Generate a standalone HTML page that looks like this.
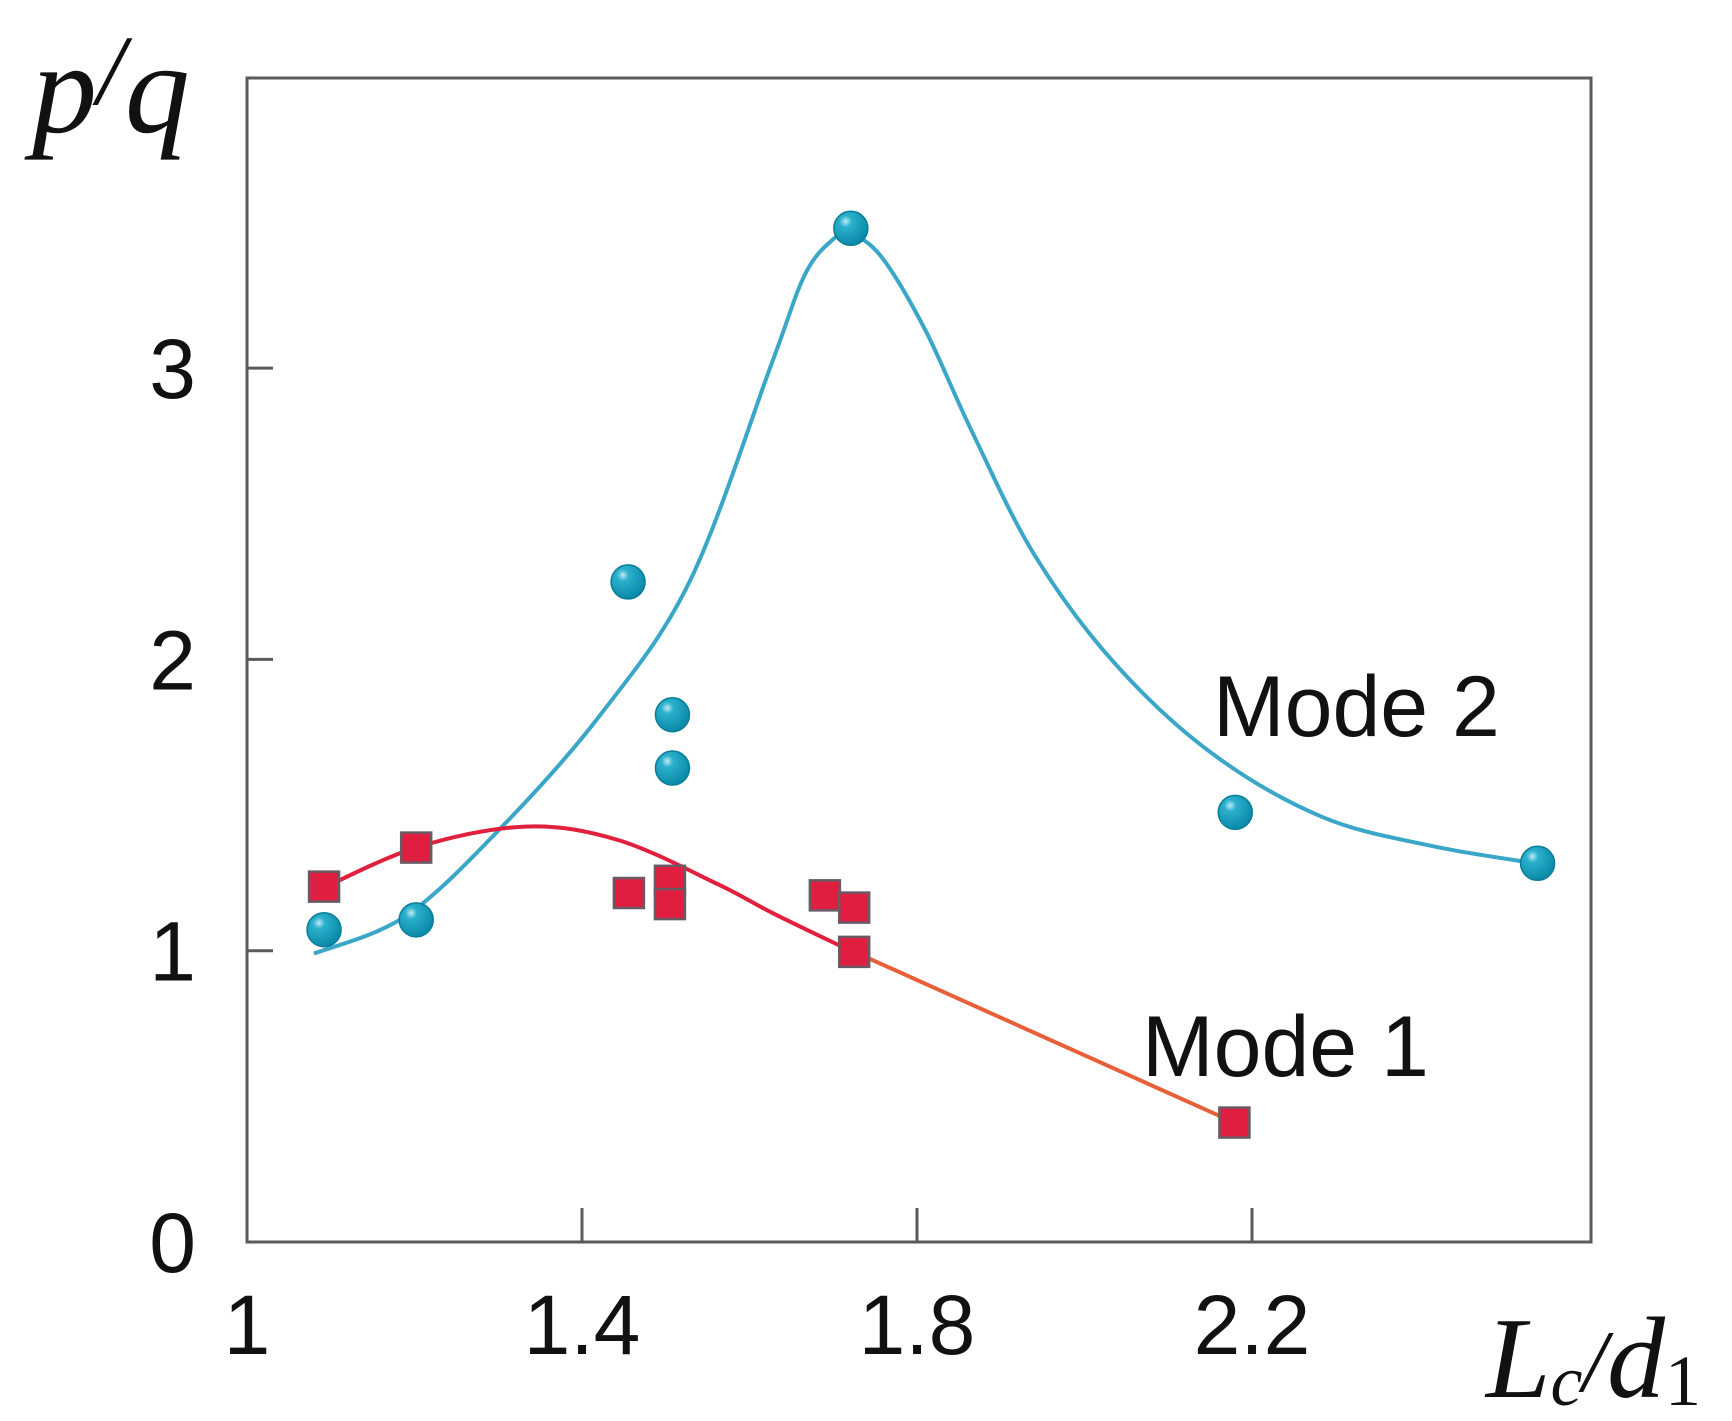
<!DOCTYPE html>
<html><head><meta charset="utf-8"><style>
html,body{margin:0;padding:0;background:#fff;}
svg{display:block;}
</style></head><body>
<svg id="chart" width="1732" height="1421" viewBox="0 0 1732 1421" xmlns="http://www.w3.org/2000/svg">
<defs>
<radialGradient id="ball" cx="0.35" cy="0.3" r="0.7">
<stop offset="0" stop-color="#bfeaf4"/><stop offset="0.25" stop-color="#2bb0cc"/><stop offset="1" stop-color="#0a8aa8"/>
</radialGradient>
</defs>
<g id="axes"></g>
<g id="curves"></g>
<g id="marks"></g>
<text x="32" y="132" font-family="Liberation Serif, serif" font-style="italic" font-size="130" fill="#111">p<tspan font-size="100" dy="-28">/</tspan><tspan dy="28">q</tspan></text>
<text x="1486" y="1397" font-family="Liberation Serif, serif" font-style="italic" font-size="116" fill="#111">L<tspan font-size="72" dy="8">c</tspan><tspan font-size="88" dy="-14">/</tspan><tspan dy="6">d</tspan><tspan font-style="normal" font-size="72" dy="8">1</tspan></text>
<text x="1213" y="736" font-family="Liberation Sans, sans-serif" font-size="86" fill="#111">Mode 2</text>
<text x="1142" y="1076" font-family="Liberation Sans, sans-serif" font-size="86" fill="#111">Mode 1</text>
</svg>
<script>
const xTicks = [1, 1.4, 1.8, 2.2];
const xTickLabels = ["1", "1.4", "1.8", "2.2"];
const yTicks = [0, 1, 2, 3];
const yTickLabels = ["0", "1", "2", "3"];
const mode2X = [1.092, 1.202, 1.455, 1.508, 1.508, 1.721, 2.180, 2.541];
const mode2Y = [1.072, 1.106, 2.266, 1.81, 1.627, 3.48, 1.475, 1.30];
const mode1X = [1.092, 1.202, 1.456, 1.505, 1.505, 1.690, 1.725, 1.725, 2.179];
const mode1Y = [1.22, 1.354, 1.198, 1.24, 1.16, 1.19, 1.148, 0.996, 0.41];
const fit2X = [1.080, 1.19, 1.306, 1.422, 1.529, 1.627, 1.666, 1.699, 1.721, 1.758, 1.810, 1.866, 1.940, 2.035, 2.151, 2.283, 2.414, 2.538];
const fit2Y = [0.99, 1.12, 1.43, 1.81, 2.27, 3.02, 3.32, 3.44, 3.46, 3.38, 3.13, 2.78, 2.36, 1.99, 1.68, 1.46, 1.36, 1.30];
const fit1X = [1.080, 1.202, 1.332, 1.443, 1.561, 1.627, 1.706, 1.725];
const fit1Y = [1.20, 1.354, 1.426, 1.38, 1.23, 1.13, 1.02, 0.996];
const lin1X = [1.725, 2.179];
const lin1Y = [0.996, 0.41];

const NS = "http://www.w3.org/2000/svg";
const L = 247, R = 1591, T = 78, B = 1242;
function sx(v){ return L + (v - 1) * 837.5; }
function sy(v){ return B - v * 291.3; }
function mk(tag, attrs, parent){ const e = document.createElementNS(NS, tag); for (const k in attrs) e.setAttribute(k, attrs[k]); parent.appendChild(e); return e; }
const axes = document.getElementById('axes');
const frame = mk('rect', {x:L, y:T, width:R-L, height:B-T, fill:'none', stroke:'#5a5a5a', 'stroke-width':3}, axes);


xTicks.forEach((v, i) => {
  if (i > 0) {
    const t = mk('line', {x1:sx(v), x2:sx(v), y1:B, y2:B-34, stroke:'#5a5a5a', 'stroke-width':3}, axes);
    
    
  }
  const tx = mk('text', {x:sx(v), y:1354, 'text-anchor':'middle', 'font-family':'Liberation Sans, sans-serif', 'font-size':84, fill:'#111'}, axes);
  tx.textContent = xTickLabels[i];
  
  
});
yTicks.forEach((v, i) => {
  if (i > 0) {
    const t = mk('line', {x1:L, x2:L+26, y1:sy(v), y2:sy(v), stroke:'#5a5a5a', 'stroke-width':3}, axes);
    
    
  }
  const tx = mk('text', {x:196, y:sy(v)+30, 'text-anchor':'end', 'font-family':'Liberation Sans, sans-serif', 'font-size':84, fill:'#111'}, axes);
  tx.textContent = yTickLabels[i];
  
  
});
function smooth(xs, ys){
  const p = xs.map((x, i) => [sx(x), sy(ys[i])]);
  let d = 'M' + p[0][0] + ',' + p[0][1];
  for (let i = 0; i < p.length - 1; i++) {
    const p0 = p[i-1] || p[i], p1 = p[i], p2 = p[i+1], p3 = p[i+2] || p2;
    const c1x = p1[0] + (p2[0]-p0[0])/6, c1y = p1[1] + (p2[1]-p0[1])/6;
    const c2x = p2[0] - (p3[0]-p1[0])/6, c2y = p2[1] - (p3[1]-p1[1])/6;
    d += ' C' + c1x + ',' + c1y + ' ' + c2x + ',' + c2y + ' ' + p2[0] + ',' + p2[1];
  }
  return d;
}
const curves = document.getElementById('curves');
const c2 = mk('path', {d:smooth(fit2X, fit2Y), fill:'none', stroke:'#3aa6c8', 'stroke-width':4}, curves);


const c1 = mk('path', {d:smooth(fit1X, fit1Y), fill:'none', stroke:'#e0203c', 'stroke-width':4}, curves);


const l1 = mk('line', {x1:sx(lin1X[0]), y1:sy(lin1Y[0]), x2:sx(lin1X[1]), y2:sy(lin1Y[1]), stroke:'#e8603a', 'stroke-width':4}, curves);


const marks = document.getElementById('marks');
mode1X.forEach((x, i) => {
  const r = mk('rect', {x:sx(x)-15, y:sy(mode1Y[i])-15, width:30, height:30, fill:'#e01e40', stroke:'#6a5a66', 'stroke-width':2.5}, marks);
  
  
});
mode2X.forEach((x, i) => {
  const c = mk('circle', {cx:sx(x), cy:sy(mode2Y[i]), r:17, fill:'url(#ball)', stroke:'#0a7d98', 'stroke-width':1.5}, marks);
  
  
});
</script>
</body></html>
